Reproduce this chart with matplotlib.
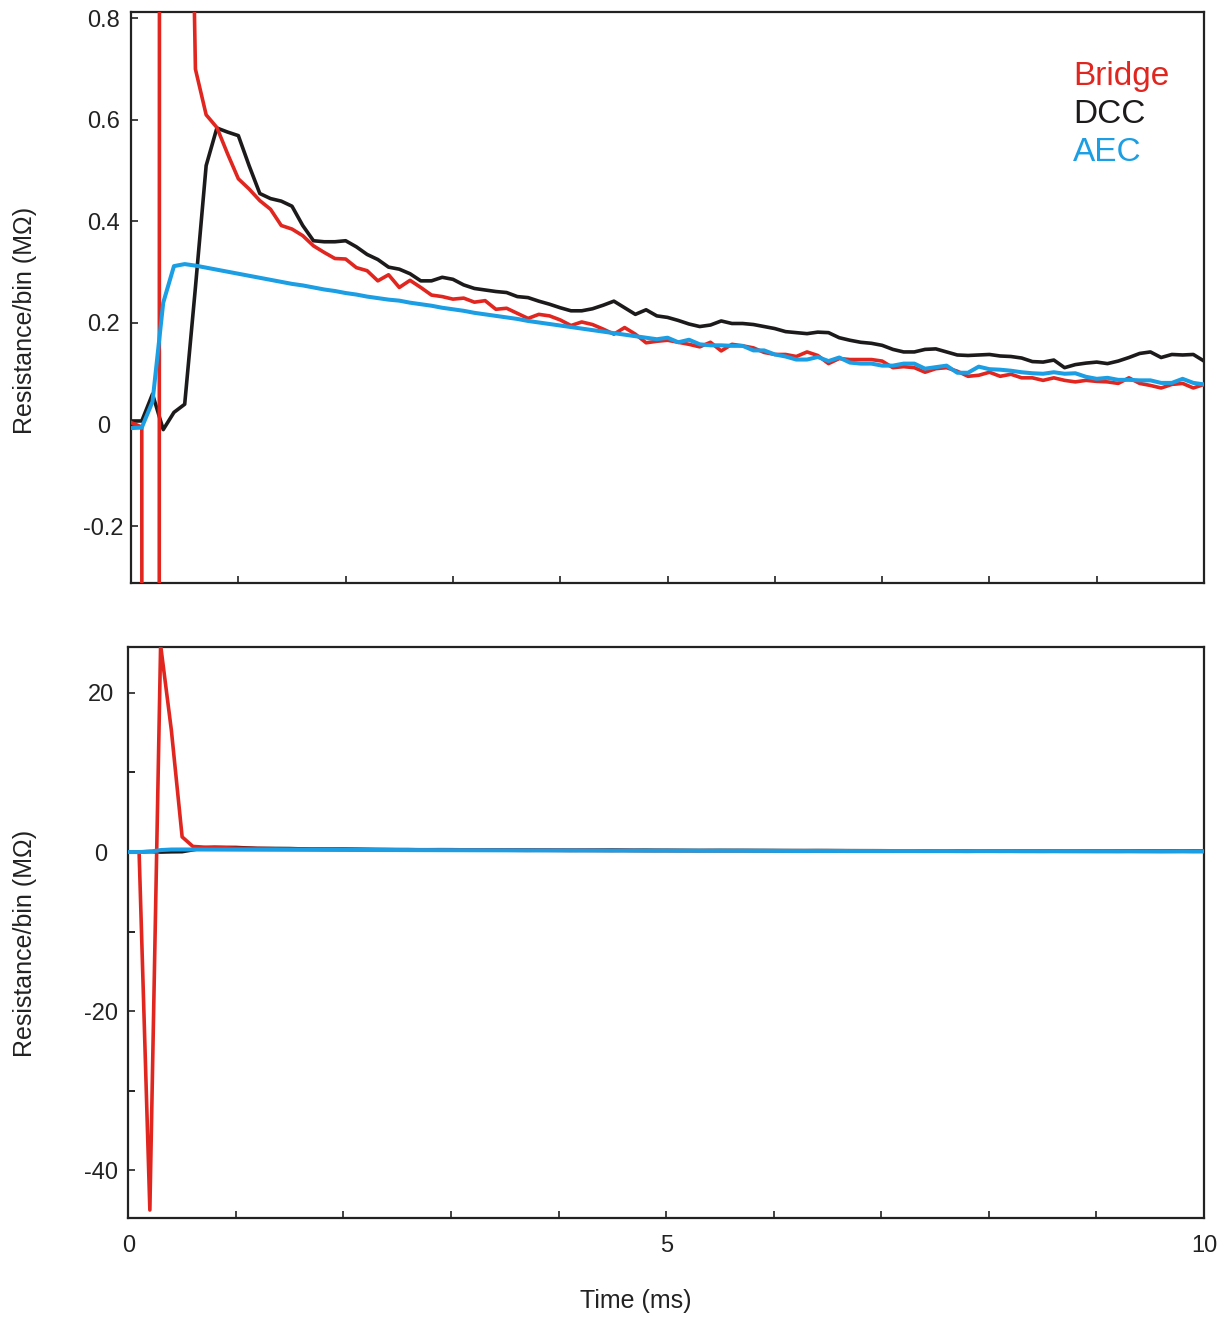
import numpy as np
import matplotlib
matplotlib.use('Agg')
import matplotlib.pyplot as plt
from matplotlib.ticker import MultipleLocator

plt.rcParams['font.family'] = ['Liberation Sans', 'DejaVu Sans']

# binned resistance estimates, one bin every 0.1 ms
bin_ms = 0.1

bridge = [0.004, -0.005, -45.0, 26.0, 15.3, 1.9, 0.70, 0.61, 0.585, 0.533,
          0.484, 0.464, 0.441, 0.424, 0.392, 0.385, 0.372, 0.352, 0.339, 0.327,
          0.326, 0.309, 0.303, 0.283, 0.295, 0.27, 0.284, 0.27, 0.255, 0.252,
          0.247, 0.249, 0.241, 0.244, 0.227, 0.229, 0.219, 0.209, 0.217, 0.214,
          0.206, 0.195, 0.202, 0.197, 0.188, 0.178, 0.191, 0.178, 0.161, 0.164,
          0.166, 0.162, 0.158, 0.153, 0.162, 0.145, 0.158, 0.155, 0.151, 0.142,
          0.138, 0.138, 0.134, 0.143, 0.136, 0.12, 0.13, 0.128, 0.128, 0.128,
          0.125, 0.112, 0.114, 0.112, 0.103, 0.11, 0.112, 0.105, 0.095, 0.097,
          0.103, 0.095, 0.099, 0.092, 0.092, 0.087, 0.092, 0.087, 0.084, 0.087,
          0.085, 0.084, 0.081, 0.092, 0.081, 0.077, 0.072, 0.079, 0.081, 0.072,
          0.079]

dcc = [0.007, 0.007, 0.06, -0.01, 0.024, 0.04, 0.27, 0.51, 0.584, 0.576,
       0.569, 0.51, 0.455, 0.445, 0.44, 0.43, 0.392, 0.362, 0.36, 0.36,
       0.362, 0.35, 0.335, 0.325, 0.31, 0.306, 0.297, 0.283, 0.283, 0.29,
       0.286, 0.275, 0.268, 0.265, 0.262, 0.26, 0.252, 0.25, 0.243, 0.237,
       0.23, 0.224, 0.224, 0.228, 0.235, 0.243, 0.23, 0.217, 0.226, 0.214,
       0.211, 0.205, 0.198, 0.193, 0.196, 0.204, 0.199, 0.199, 0.197, 0.193,
       0.189, 0.183, 0.181, 0.179, 0.182, 0.181, 0.171, 0.166, 0.162, 0.16,
       0.156, 0.148, 0.143, 0.143, 0.148, 0.149, 0.143, 0.137, 0.136, 0.137,
       0.138, 0.135, 0.134, 0.131, 0.124, 0.123, 0.127, 0.112, 0.118, 0.121,
       0.123, 0.12, 0.125, 0.132, 0.14, 0.143, 0.132, 0.138, 0.137, 0.138,
       0.125]

aec = [-0.007, -0.006, 0.045, 0.24, 0.312, 0.316, 0.313, 0.309, 0.305, 0.301,
       0.297, 0.293, 0.289, 0.285, 0.281, 0.277, 0.274, 0.27, 0.266, 0.263,
       0.259, 0.256, 0.252, 0.249, 0.246, 0.244, 0.24, 0.237, 0.234, 0.23,
       0.227, 0.224, 0.22, 0.217, 0.214, 0.211, 0.208, 0.204, 0.201, 0.198,
       0.195, 0.192, 0.189, 0.186, 0.183, 0.18, 0.177, 0.174, 0.171, 0.168,
       0.171, 0.162, 0.167, 0.158, 0.156, 0.156, 0.155, 0.155, 0.146, 0.146,
       0.138, 0.134, 0.128, 0.128, 0.133, 0.125, 0.132, 0.122, 0.12, 0.12,
       0.116, 0.116, 0.12, 0.12, 0.11, 0.113, 0.116, 0.102, 0.102, 0.114,
       0.109, 0.108, 0.106, 0.103, 0.101, 0.1, 0.103, 0.1, 0.101, 0.094,
       0.09, 0.092, 0.088, 0.088, 0.087, 0.087, 0.082, 0.082, 0.09, 0.082,
       0.079]

time_ms = np.arange(len(dcc)) * bin_ms

names = ['Bridge', 'DCC', 'AEC']
colors = ['#e0261f', '#1c1a1a', '#1b9ee3']

W, H = 1227, 1318
fig = plt.figure(figsize=(W / 100, H / 100), dpi=100)
ax1 = fig.add_axes([0.1068, 0.5577, 0.8745, 0.433])
ax2 = fig.add_axes([0.1046, 0.0759, 0.8767, 0.4334])

for ax in (ax1, ax2):
    ax.plot(time_ms, dcc, color=colors[1], lw=2.6, zorder=2)
    ax.plot(time_ms, bridge, color=colors[0], lw=2.6, zorder=3)
    ax.plot(time_ms, aec, color=colors[2], lw=2.9, zorder=4)
    ax.set_xlim(0, 10)
    for s in ax.spines.values():
        s.set_linewidth(1.6)
        s.set_color('#222222')
    ax.xaxis.set_major_locator(MultipleLocator(1))
    ax.tick_params(direction='in', length=5, width=1.2, color='#222222',
                   labelsize=17, labelcolor='#222222')
    ax.tick_params(axis='y', which='both', direction='in', pad=20)
    ax.tick_params(which='minor', direction='in', length=5, width=1.2)

# upper panel: zoom on the small values
ax1.set_ylim(-0.312, 0.812)
ax1.set_yticks([-0.2, 0, 0.2, 0.4, 0.6, 0.8])
ax1.set_yticklabels(['-0.2', '0', '0.2', '0.4', '0.6', '0.8'], ha='center')
ax1.tick_params(axis='x', labelbottom=False)

# coloured names instead of a legend box
for i, (n, c) in enumerate(zip(names, colors)):
    fig.text(1073 / W, 1 - (85 + 38 * i) / H, n, color=c, fontsize=24,
             ha='left', va='baseline')

# lower panel: full range
ax2.set_ylim(-46.0, 25.8)
ax2.set_yticks([-40, -20, 0, 20])
ax2.set_yticklabels(['-40', '-20', '0', '20'], ha='center')
ax2.yaxis.set_minor_locator(MultipleLocator(10))
ax2.set_xticks(range(11))
ax2.set_xticklabels(['0', '', '', '', '', '5', '', '', '', '', '10'])
ax2.tick_params(axis='x', pad=12)

fig.text(0.0204, 1 - 320 / H, 'Resistance/bin (M\u03a9)', rotation=90,
         ha='center', va='center', fontsize=18, color='#222222')
fig.text(0.0204, 1 - 943 / H, 'Resistance/bin (M\u03a9)', rotation=90,
         ha='center', va='center', fontsize=18, color='#222222')
fig.text(636 / W, 1 - 1301 / H, 'Time (ms)', ha='center', va='center',
         fontsize=18, color='#222222')

fig.savefig('out.png', dpi=100)
